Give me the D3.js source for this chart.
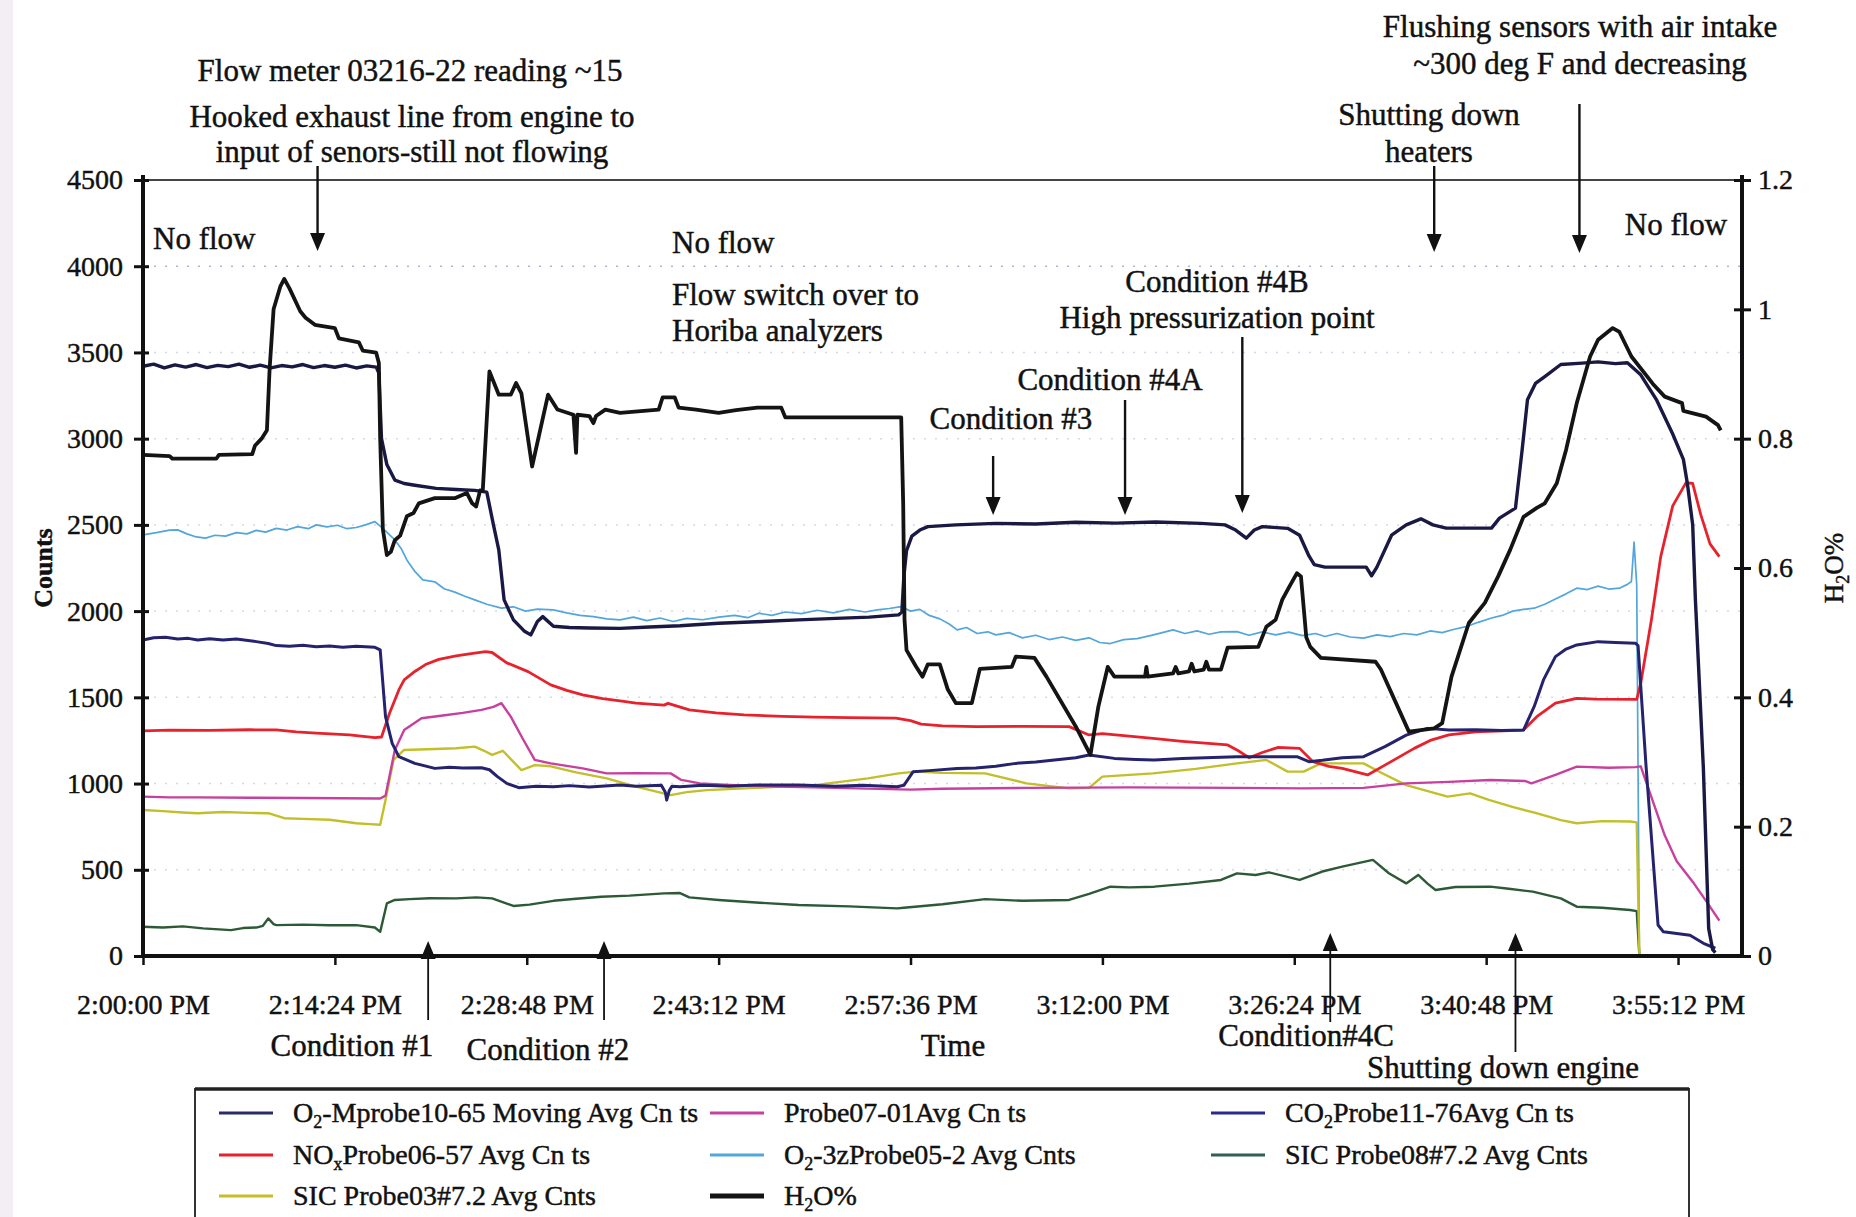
<!DOCTYPE html>
<html><head><meta charset="utf-8">
<script src="https://cdn.jsdelivr.net/npm/d3@7"></script>
<style>
html,body{margin:0;padding:0;background:#fff;}
svg{display:block;font-family:"Liberation Serif","DejaVu Serif",serif;}
svg text{stroke:#111;stroke-width:0.45px;}
</style></head><body>
<svg id="chart" width="1856" height="1217"></svg>
<script>
// ---------- DATA (time in minutes after 2:00:00 PM) ----------
const xTickMinutes = [0,14.4,28.8,43.2,57.6,72,86.4,100.8,115.2];
const xTickLabels = ["2:00:00 PM","2:14:24 PM","2:28:48 PM","2:43:12 PM","2:57:36 PM","3:12:00 PM","3:26:24 PM","3:40:48 PM","3:55:12 PM"];
const yTicks = [0,500,1000,1500,2000,2500,3000,3500,4000,4500];
const y2Ticks = [0,0.2,0.4,0.6,0.8,1,1.2];
const y2TickLabels = ["0","0.2","0.4","0.6","0.8","1","1.2"];

const legendLabels = ["O_2-Mprobe10-65 Moving Avg Cn ts","Probe07-01Avg Cn ts","CO_2Probe11-76Avg Cn ts",
  "NO_xProbe06-57 Avg Cn ts","O_2-3zProbe05-2 Avg Cnts","SIC Probe08#7.2 Avg Cnts",
  "SIC Probe03#7.2 Avg Cnts","H_2O%"];

const o2MprobeCounts = [[0,3420],[0.8,3432],[1.6,3410],[2.4,3428],[3.2,3415],[4,3430],[4.8,3412],[5.6,3425],[6.4,3418],[7.2,3432],[8,3414],[8.8,3426],[9.6,3410],[10.4,3424],[11.2,3416],[12,3430],[12.8,3412],[13.6,3424],[14.4,3414],[15.2,3426],[16,3410],[16.8,3422],[17.5,3415],[17.7,3380],[17.9,3000],[18.3,2850],[18.9,2760],[19.6,2740],[20.4,2730],[22,2712],[23.5,2705],[24.9,2700],[25.8,2690],[26.3,2500],[26.7,2355],[27.1,2065],[27.8,1949],[28.6,1885],[29.1,1862],[29.6,1940],[30.0,1968],[30.8,1912],[32,1905],[33.5,1902],[35.8,1900],[38,1908],[40.3,1915],[43.2,1930],[46,1938],[49.2,1949],[52,1958],[54.5,1965],[56.7,1978],[56.95,1995],[57.1,2200],[57.3,2350],[57.7,2435],[58.3,2470],[58.9,2490],[61,2500],[64,2509],[67,2505],[70,2515],[73,2510],[76,2517],[79.4,2509],[81.2,2500],[82.0,2470],[82.8,2423],[83.4,2470],[84.0,2490],[85.9,2480],[86.8,2440],[87.5,2320],[87.9,2270],[88.7,2255],[91.8,2255],[92.2,2205],[92.6,2255],[93.7,2440],[94.8,2500],[95.9,2535],[96.8,2500],[97.8,2481],[101.2,2481],[101.8,2539],[103.0,2597],[103.5,2935],[103.9,3225],[104.5,3320],[105.2,3360],[106.4,3430],[108,3438],[109.2,3445],[110.5,3435],[111.4,3440],[112.4,3370],[113.6,3223],[114.8,3027],[115.6,2880],[115.9,2740],[116.3,2500],[116.5,2071],[117.1,1090],[117.5,159],[117.8,37],[118.0,20]];

const probe07Counts = [[0,924],[2,920],[4.1,920],[8,918],[12,916],[17.8,913],[18.2,930],[18.9,1195],[19.6,1311],[20.9,1379],[22.5,1395],[24,1410],[25.4,1427],[26.3,1445],[26.9,1466],[27.6,1388],[28.5,1260],[29.4,1137],[30.6,1117],[33.0,1088],[34.8,1059],[37,1060],[39.6,1059],[40.4,1021],[41.8,1001],[44,992],[47.7,982],[52,975],[57.6,965],[60,970],[66.3,975],[74,978],[82.1,975],[87,972],[91.6,975],[94.8,1001],[98,1010],[101.1,1021],[103.7,1015],[104.2,1001],[106.0,1050],[107.6,1098],[110,1092],[112.0,1095],[112.4,1100],[113.3,900],[114.2,700],[115.1,550],[116.4,420],[117.3,320],[118.3,205]];

const co2Counts = [[0,1833],[0.8,1845],[1.7,1848],[2.6,1838],[3.4,1842],[4.1,1833],[5,1840],[6,1832],[7,1838],[8.5,1823],[9.4,1812],[10,1800],[11,1796],[12,1802],[13,1794],[14,1798],[15,1790],[16,1796],[17.4,1790],[17.8,1775],[18.2,1388],[18.7,1233],[19.2,1156],[20.4,1117],[21.9,1088],[23,1095],[24,1090],[25.4,1092],[26.0,1080],[26.6,1040],[27.3,1001],[28.2,976],[29.5,985],[30.8,982],[32,988],[33.5,980],[35.8,991],[37,985],[38.9,990],[39.2,950],[39.3,904],[39.5,960],[39.7,985],[40.3,982],[42,990],[44,984],[46,992],[49.2,991],[52,985],[54,990],[56.6,982],[57.1,990],[57.8,1069],[59,1075],[61.1,1088],[62.5,1090],[64,1100],[65.5,1117],[67,1125],[68.4,1137],[70,1150],[71.0,1166],[72.9,1146],[74.5,1140],[75.9,1137],[78,1145],[80.9,1153],[82.1,1156],[84,1155],[86.6,1156],[87.5,1127],[88.5,1135],[90,1150],[91.6,1156],[93.2,1214],[94.8,1281],[96.4,1320],[98.0,1310],[100,1312],[102,1308],[103.6,1310],[104.4,1446],[105.1,1601],[106.0,1736],[106.8,1780],[107.6,1804],[109.2,1823],[110.5,1818],[112.0,1814],[112.2,1800],[112.8,1100],[113.7,180],[114.1,140],[116.1,120],[117.2,70],[118.0,45]];

const noxCounts = [[0,1305],[2,1310],[5,1308],[8,1312],[10,1311],[11.5,1300],[13,1292],[15.5,1282],[17.4,1266],[17.9,1270],[18.5,1408],[19.2,1543],[19.6,1601],[20.4,1650],[21.2,1690],[22.2,1720],[23.5,1740],[24.5,1752],[25.7,1765],[26.2,1760],[27.3,1700],[28.9,1649],[30.6,1572],[31.8,1540],[33.0,1514],[34.5,1492],[35.8,1480],[37.0,1466],[39.1,1455],[39.4,1465],[41.0,1427],[43,1410],[45.1,1398],[48,1390],[50.4,1385],[53,1382],[56.5,1379],[57.6,1365],[58.4,1345],[60,1335],[62.5,1330],[66,1332],[69.5,1330],[71.0,1282],[72.0,1290],[74,1275],[75.8,1262],[78,1245],[81.4,1224],[82.2,1190],[83.0,1150],[84,1180],[85.2,1210],[86.8,1204],[87.8,1127],[89,1100],[90.0,1088],[91.9,1050],[93.2,1107],[95.4,1204],[96.6,1250],[98.0,1282],[100,1300],[103.6,1310],[104.6,1388],[106.0,1466],[107.6,1494],[109,1490],[112.1,1488],[112.4,1581],[113.2,1948],[113.9,2316],[114.8,2610],[115.8,2745],[116.3,2740],[116.9,2561],[117.6,2390],[118.3,2316]];

const o2zCounts = [[0,2442],[1,2455],[2,2470],[2.6,2471],[3.3,2448],[4.0,2430],[4.7,2423],[5.4,2440],[6.2,2435],[7.0,2455],[7.8,2448],[8.5,2468],[9.2,2458],[10.0,2480],[10.8,2470],[11.6,2490],[12.4,2478],[13.0,2500],[13.8,2488],[14.6,2498],[15.3,2478],[16.0,2485],[16.7,2500],[17.4,2519],[18.0,2480],[18.9,2413],[19.4,2360],[19.8,2297],[20.4,2230],[21.0,2181],[21.9,2170],[22.6,2130],[23.4,2110],[24.2,2085],[24.9,2065],[25.8,2040],[26.9,2017],[27.8,2025],[28.7,2000],[29.6,2012],[30.8,2007],[31.8,1990],[32.8,1975],[33.8,1968],[34.8,1955],[35.8,1949],[36.8,1965],[37.8,1945],[38.8,1960],[39.8,1940],[40.8,1958],[42.0,1950],[43.2,1965],[44.4,1975],[45.4,1962],[46.2,1988],[47.2,1975],[48.2,1995],[49.4,1985],[50.6,2005],[51.8,1990],[53.0,2010],[54.2,1995],[55.1,2007],[56.0,2015],[56.9,2026],[57.6,2000],[58.3,2010],[59.0,1975],[59.8,1955],[60.5,1925],[61.1,1891],[61.8,1905],[62.6,1870],[63.4,1880],[64.0,1862],[65.0,1875],[66.0,1845],[67.0,1860],[68.0,1835],[69.0,1850],[70.0,1830],[71.0,1845],[71.8,1818],[72.6,1812],[73.6,1835],[74.6,1840],[75.6,1858],[76.5,1875],[77.3,1891],[78.2,1870],[79.1,1885],[80.0,1866],[80.9,1880],[82.1,1881],[83.0,1860],[84.0,1880],[85.0,1862],[86.0,1878],[87.0,1858],[88.0,1870],[88.7,1853],[89.6,1870],[90.6,1850],[91.6,1843],[92.6,1862],[93.6,1852],[94.6,1870],[95.6,1862],[96.6,1885],[97.5,1875],[98.4,1895],[99.3,1910],[100.2,1935],[101.2,1960],[102.0,1975],[102.8,2000],[103.6,2010],[104.4,2017],[105.2,2040],[106.0,2070],[106.8,2100],[107.6,2133],[108.4,2125],[109.2,2145],[110.0,2128],[110.8,2133],[111.4,2155],[111.7,2172],[111.9,2400],[112.1,2150],[112.3,0],[112.6,0]];

const sic08Counts = [[0,170],[1.5,165],[3,172],[4.5,160],[6.6,150],[7.5,162],[8.5,165],[9.0,175],[9.4,218],[9.8,185],[10,179],[12,182],[14,178],[16.0,179],[17.4,165],[17.8,140],[18.3,305],[18.9,325],[20,330],[21.5,335],[23.5,334],[25,340],[26.2,334],[27.8,290],[29,298],[30.8,320],[32.5,332],[34.4,344],[36.5,350],[39.1,363],[40.3,365],[41.0,340],[43.2,325],[46,310],[49.2,296],[53,288],[56.6,276],[57.1,280],[60,300],[63.2,330],[66,320],[69.5,325],[71,360],[72.6,402],[74,398],[75.9,402],[78.5,420],[80.9,441],[82.1,479],[83.5,470],[84.5,485],[86.8,441],[88.5,490],[90.0,518],[92.3,557],[93.5,480],[94.8,421],[95.7,470],[96.4,420],[97.0,383],[98.5,400],[101.1,402],[102.5,390],[104.3,373],[106.4,334],[107.6,286],[109.5,280],[111.6,267],[112.1,260],[112.3,0],[112.7,0]];

const sic03Counts = [[0,847],[1.5,840],[3,832],[4.1,828],[6,835],[8,830],[9.4,828],[10.6,799],[12,795],[14,790],[15,780],[16.0,770],[17,765],[17.8,761],[18.2,905],[18.8,1137],[19.6,1195],[21.9,1200],[23.5,1205],[24.9,1214],[25.6,1190],[26.2,1166],[27.0,1190],[28.4,1078],[29.4,1107],[30.6,1100],[32.5,1065],[34.8,1030],[37.0,982],[39.6,933],[40.8,950],[42.3,962],[46,975],[50.4,991],[54.4,1030],[56.7,1059],[58.0,1069],[60,1062],[63.2,1059],[66.3,1001],[69.5,972],[71.0,975],[72.0,1040],[75.8,1059],[79,1085],[82.1,1117],[84.3,1137],[85.9,1069],[87.1,1069],[88.4,1117],[91.6,1117],[93,1060],[94.8,991],[97.9,924],[99.6,943],[101,905],[102.7,866],[104.5,830],[106.4,788],[107.6,770],[109.5,782],[111.6,780],[112.1,775],[112.3,0],[112.6,0]];

const h2oPercent = [[0,0.775],[2,0.773],[2.2,0.769],[5.5,0.769],[5.7,0.775],[8.2,0.776],[8.4,0.789],[8.9,0.8],[9.3,0.813],[9.5,0.907],[9.8,1.0],[10.3,1.035],[10.6,1.047],[11.0,1.032],[11.8,0.997],[12.2,0.987],[12.9,0.976],[14.4,0.971],[14.7,0.955],[16.2,0.949],[16.5,0.936],[17.5,0.933],[17.7,0.917],[17.8,0.80],[18.0,0.66],[18.3,0.62],[18.6,0.625],[18.9,0.643],[19.3,0.65],[19.8,0.68],[20.3,0.685],[20.7,0.70],[21.9,0.708],[23.4,0.708],[24.3,0.716],[24.7,0.70],[25.0,0.695],[25.3,0.72],[25.5,0.72],[26.0,0.904],[26.7,0.868],[27.6,0.868],[28.0,0.886],[28.4,0.87],[29.2,0.757],[30.4,0.868],[31.1,0.845],[32.3,0.837],[32.5,0.778],[32.6,0.837],[33.5,0.835],[33.8,0.824],[34.0,0.835],[34.7,0.845],[35.8,0.84],[38.7,0.845],[39.0,0.864],[39.9,0.864],[40.2,0.848],[41.5,0.845],[43.2,0.84],[44.5,0.844],[46.1,0.848],[47.9,0.848],[48.2,0.833],[56.9,0.833],[57.05,0.7],[57.15,0.52],[57.3,0.473],[58.0,0.448],[58.5,0.432],[58.9,0.451],[59.8,0.451],[60.4,0.412],[61.0,0.391],[62.2,0.391],[62.8,0.444],[65.2,0.447],[65.5,0.463],[66.9,0.461],[67.8,0.432],[70.0,0.355],[71.1,0.311],[71.7,0.386],[72.4,0.447],[72.9,0.432],[75.2,0.432],[75.3,0.447],[75.4,0.432],[77.3,0.437],[77.5,0.447],[77.7,0.437],[78.5,0.44],[78.7,0.452],[78.9,0.44],[79.6,0.443],[79.8,0.455],[80.0,0.443],[80.9,0.443],[81.4,0.477],[83.7,0.478],[84.3,0.509],[85.0,0.52],[85.5,0.551],[86.0,0.57],[86.6,0.592],[86.9,0.587],[87.3,0.493],[87.6,0.478],[88.4,0.461],[92.5,0.455],[92.9,0.443],[95.0,0.347],[96.9,0.352],[97.5,0.36],[98.2,0.432],[99.5,0.515],[100.7,0.546],[101.7,0.587],[102.6,0.628],[103.6,0.679],[104.6,0.693],[105.2,0.70],[106.1,0.731],[106.8,0.783],[107.6,0.855],[108.6,0.927],[109.2,0.953],[110.3,0.971],[110.8,0.965],[111.7,0.927],[112.7,0.901],[113.3,0.885],[114.2,0.865],[115.5,0.855],[115.6,0.843],[117.3,0.834],[118.2,0.821],[118.4,0.813]];

// ---------- LAYOUT ----------
const W = 1856, H = 1217;
const P = {left:143, right:1742, top:180, bottom:956};
const svg = d3.select("#chart");
svg.append("rect").attr("width",W).attr("height",H).attr("fill","#fff");
svg.append("rect").attr("x",0).attr("y",0).attr("width",13).attr("height",H).attr("fill","#f3edf4");

const x = d3.scaleLinear().domain([0,120]).range([P.left,P.right]);
const y = d3.scaleLinear().domain([0,4500]).range([P.bottom,P.top]);
const y2 = d3.scaleLinear().domain([0,1.2]).range([P.bottom,P.top]);

// faint dotted gridlines
svg.append("g").selectAll("line").data(yTicks.filter(v=>v>0&&v<4500)).join("line")
  .attr("x1",P.left).attr("x2",P.right).attr("y1",d=>y(d)).attr("y2",d=>y(d))
  .attr("stroke",d=>d===4000?"#aeb6d8":"#d3d8ee").attr("stroke-width",1.5).attr("stroke-dasharray","2,9");

// top border
svg.append("line").attr("x1",P.left).attr("x2",P.right).attr("y1",P.top).attr("y2",P.top)
  .attr("stroke","#444").attr("stroke-width",2);

// series
const seriesDefs = [
  {data:o2zCounts, axis:y, color:"#52a6dc", w:1.7},
  {data:sic08Counts, axis:y, color:"#2d5a36", w:2.4},
  {data:sic03Counts, axis:y, color:"#c2bf2a", w:2.4},
  {data:probe07Counts, axis:y, color:"#c8409e", w:2.4},
  {data:noxCounts, axis:y, color:"#e8222c", w:2.8},
  {data:co2Counts, axis:y, color:"#25236e", w:3},
  {data:o2MprobeCounts, axis:y, color:"#1a1944", w:3.4},
  {data:h2oPercent, axis:y2, color:"#141414", w:3.8}
];
const gLines = svg.append("g");
seriesDefs.forEach(s=>{
  const line = d3.line().x(d=>x(d[0])).y(d=>s.axis(d[1]));
  gLines.append("path").datum(s.data).attr("d",line).attr("fill","none")
    .attr("stroke",s.color).attr("stroke-width",s.w).attr("stroke-linejoin","round");
});

// axes
const fontTick = 28;
const gx = svg.append("g").attr("transform",`translate(0,${P.bottom})`)
  .call(d3.axisBottom(x).tickValues(xTickMinutes).tickFormat((d,i)=>xTickLabels[i]).tickSizeInner(9).tickSizeOuter(0));
gx.select(".domain").remove();
gx.selectAll(".tick line").attr("stroke","#111").attr("stroke-width",2.5);
gx.selectAll(".tick text").attr("y",38).attr("font-size",fontTick).attr("fill","#111")
  .attr("font-family","Liberation Serif, serif");

const gy = svg.append("g").attr("transform",`translate(${P.left},0)`)
  .call(d3.axisLeft(y).tickValues(yTicks).tickFormat(d3.format("d")).tickSizeInner(8).tickSizeOuter(0));
gy.select(".domain").remove();
gy.selectAll(".tick line").attr("x1",6).attr("x2",-9).attr("stroke","#111").attr("stroke-width",3);
gy.selectAll(".tick text").attr("x",-20).attr("font-size",fontTick).attr("fill","#111")
  .attr("font-family","Liberation Serif, serif");

const gy2 = svg.append("g").attr("transform",`translate(${P.right},0)`)
  .call(d3.axisRight(y2).tickValues(y2Ticks).tickFormat((d,i)=>y2TickLabels[i]).tickSizeInner(8).tickSizeOuter(0));
gy2.select(".domain").remove();
gy2.selectAll(".tick line").attr("x1",-8).attr("x2",9).attr("stroke","#111").attr("stroke-width",3);
gy2.selectAll(".tick text").attr("x",16).attr("font-size",fontTick).attr("fill","#111")
  .attr("font-family","Liberation Serif, serif");

// axis lines
svg.append("line").attr("x1",P.left).attr("x2",P.left).attr("y1",P.top-5).attr("y2",P.bottom+2).attr("stroke","#111").attr("stroke-width",4);
svg.append("line").attr("x1",P.right).attr("x2",P.right).attr("y1",P.top-5).attr("y2",P.bottom+2).attr("stroke","#111").attr("stroke-width",4);
svg.append("line").attr("x1",P.left-2).attr("x2",P.right+2).attr("y1",P.bottom).attr("y2",P.bottom).attr("stroke","#111").attr("stroke-width",4);

// axis titles
svg.append("text").attr("transform",`translate(43,${(P.top+P.bottom)/2}) rotate(-90)`)
  .attr("text-anchor","middle").attr("dy","0.35em").attr("font-size",26).attr("font-weight","bold").attr("fill","#111").text("Counts");
const t2 = svg.append("text").attr("transform",`translate(1834,${(P.top+P.bottom)/2}) rotate(-90)`)
  .attr("text-anchor","middle").attr("dy","0.35em").attr("font-size",27).attr("fill","#111");
t2.append("tspan").text("H");
t2.append("tspan").attr("font-size",18).attr("dy",6).text("2");
t2.append("tspan").attr("dy",-6).text("O%");

// annotations
const fontAnn = 31;
const annTexts = [
  {t:"Flow meter 03216-22 reading ~15", x:410, y:71, a:"middle"},
  {t:"Hooked exhaust line from engine to", x:412, y:117, a:"middle"},
  {t:"input of senors-still not flowing", x:412, y:152, a:"middle"},
  {t:"No flow", x:153, y:239, a:"start"},
  {t:"No flow", x:672, y:243, a:"start"},
  {t:"Flow switch over to", x:672, y:295, a:"start"},
  {t:"Horiba analyzers", x:672, y:331, a:"start"},
  {t:"Condition #4B", x:1217, y:282, a:"middle"},
  {t:"High pressurization point", x:1217, y:318, a:"middle"},
  {t:"Condition #4A", x:1110, y:380, a:"middle"},
  {t:"Condition #3", x:1011, y:419, a:"middle"},
  {t:"Shutting down", x:1429, y:115, a:"middle"},
  {t:"heaters", x:1429, y:152, a:"middle"},
  {t:"Flushing sensors with air intake", x:1580, y:27, a:"middle"},
  {t:"~300 deg F and decreasing", x:1580, y:64, a:"middle"},
  {t:"No flow", x:1676, y:225, a:"middle"},
  {t:"Condition #1", x:352, y:1046, a:"middle"},
  {t:"Condition #2", x:548, y:1050, a:"middle"},
  {t:"Time", x:953, y:1046, a:"middle"},
  {t:"Condition#4C", x:1306, y:1036, a:"middle"},
  {t:"Shutting down engine", x:1503, y:1068, a:"middle"}
];
svg.append("g").selectAll("text").data(annTexts).join("text")
  .attr("x",d=>d.x).attr("y",d=>d.y).attr("dy","0.33em").attr("text-anchor",d=>d.a)
  .attr("font-size",fontAnn).attr("fill","#111").text(d=>d.t);

// arrows (time-positioned)
const downArrows = [{t:13.1,y1:166,y2:251},{t:63.8,y1:456,y2:515},{t:73.7,y1:400,y2:515},{t:82.5,y1:337,y2:513},{t:96.9,y1:166,y2:252},{t:107.8,y1:104,y2:253}];
const upArrows = [{t:21.4,tip:941,end:1020},{t:34.6,tip:941,end:1020},{t:89.1,tip:933,end:1022},{t:103.0,tip:933,end:1052}];
const ga = svg.append("g");
downArrows.forEach(a=>{
  const xx = x(a.t);
  ga.append("line").attr("x1",xx).attr("x2",xx).attr("y1",a.y1).attr("y2",a.y2-10).attr("stroke","#111").attr("stroke-width",2.4);
  ga.append("path").attr("d",`M${xx-7.5},${a.y2-18}L${xx+7.5},${a.y2-18}L${xx},${a.y2}Z`).attr("fill","#111");
});
upArrows.forEach(a=>{
  const xx = x(a.t);
  ga.append("line").attr("x1",xx).attr("x2",xx).attr("y1",a.tip+10).attr("y2",a.end).attr("stroke","#111").attr("stroke-width",1.8);
  ga.append("path").attr("d",`M${xx-7.5},${a.tip+18}L${xx+7.5},${a.tip+18}L${xx},${a.tip}Z`).attr("fill","#111");
});

// legend
const LG = {x:195, y:1089, w:1494, h:200};
svg.append("rect").attr("x",LG.x).attr("y",LG.y).attr("width",LG.w).attr("height",LG.h)
  .attr("fill","#fff").attr("stroke","#333").attr("stroke-width",2);
svg.append("line").attr("x1",LG.x).attr("x2",LG.x+LG.w).attr("y1",LG.y).attr("y2",LG.y).attr("stroke","#222").attr("stroke-width",3.5);
const legendColors = ["#2b2a6a","#c8409e","#2a2a8e","#e8222c","#52a6dc","#2f5f58","#c2bf2a","#141414"];
const legendWidths = [3,3,3,3,3,3,3,5];
const colX = [219,710,1211];
const rowY = [1113,1155,1196];
legendLabels.forEach((lab,i)=>{
  const cx = colX[i%3], cy = rowY[Math.floor(i/3)];
  svg.append("line").attr("x1",cx).attr("x2",cx+54).attr("y1",cy).attr("y2",cy)
    .attr("stroke",legendColors[i]).attr("stroke-width",legendWidths[i]);
  const tx = svg.append("text").attr("x",cx+74).attr("y",cy).attr("dy","0.33em").attr("font-size",28).attr("fill","#111");
  const k = lab.indexOf("_");
  if(k<0){ tx.text(lab); }
  else {
    tx.append("tspan").text(lab.slice(0,k));
    tx.append("tspan").attr("font-size",18).attr("dy",6).text(lab[k+1]);
    tx.append("tspan").attr("dy",-6).text(lab.slice(k+2));
  }
});
</script>
</body></html>
